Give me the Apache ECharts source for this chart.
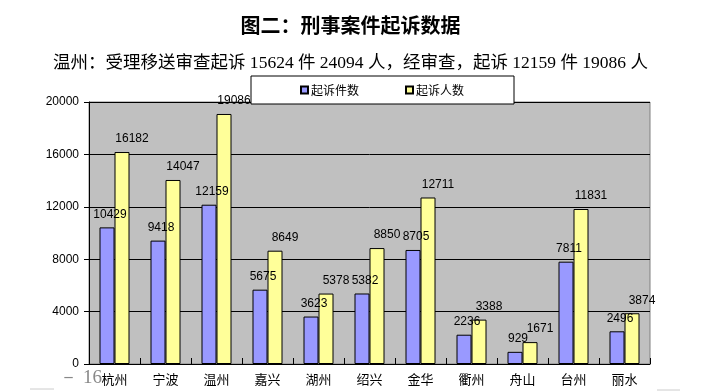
<!DOCTYPE html>
<html><head><meta charset="utf-8">
<script src="https://cdn.jsdelivr.net/npm/echarts@6/dist/echarts.min.js"></script>
<style>html,body{margin:0;padding:0;background:#fff}#c{width:701px;height:391px}</style>
</head><body><div id="c"></div>
<script>
var categories = ['杭州','宁波','温州','嘉兴','湖州','绍兴','金华','衢州','舟山','台州','丽水'];
var caseCounts = [10429, 9418, 12159, 5675, 3623, 5382, 8705, 2236, 929, 7811, 2496];
var personCounts = [16182, 14047, 19086, 8649, 5378, 8850, 12711, 3388, 1671, 11831, 3874];
var yTicks = [0, 4000, 8000, 12000, 16000, 20000];
var seriesNames = ['起诉件数', '起诉人数'];
var titleText = '图二：刑事案件起诉数据';
var subtitleText = '温州：受理移送审查起诉 15624 件 24094 人，经审查，起诉 12159 件 19086 人';
var pageMark = '－ 16';

var chart = echarts.init(document.getElementById('c'), null, {renderer: 'canvas'});
var numFont = 'Liberation Sans, Arial, sans-serif';
var cjkFont = 'Noto Sans CJK SC, sans-serif';
chart.setOption({
  animation: false,
  backgroundColor: '#fff',
  title: [
    {text: titleText, left: 'center', top: 10,
     textStyle: {fontSize: 20, fontWeight: 'bold', color: '#000', fontFamily: cjkFont}},
    {text: subtitleText, left: 'center', top: 50,
     textStyle: {fontSize: 17.5, fontWeight: 'normal', color: '#000', fontFamily: 'Liberation Serif, Noto Sans CJK SC, serif'}}
  ],
  legend: {
    data: seriesNames,
    left: 251, top: 76,
    padding: [8, 50, 8, 49],
    itemGap: 46,
    icon: 'rect',
    itemWidth: 7, itemHeight: 7,
    backgroundColor: '#fff',
    borderColor: '#000', borderWidth: 1,
    textStyle: {fontSize: 12, color: '#000', fontFamily: cjkFont, padding: [0, 0, 0, -2]}
  },
  grid: {left: 89, right: 51, top: 102, bottom: 27, show: true,
    backgroundColor: '#C0C0C0', borderColor: '#808080', borderWidth: 1},
  xAxis: {
    type: 'category', data: categories,
    axisLine: {lineStyle: {color: '#000', width: 1}},
    axisTick: {show: true, inside: true, length: 6, lineStyle: {color: '#000'}},
    axisLabel: {fontSize: 13, color: '#000', margin: 9, fontFamily: cjkFont}
  },
  yAxis: {
    type: 'value', min: yTicks[0], max: yTicks[yTicks.length - 1], interval: yTicks[1] - yTicks[0],
    axisLine: {show: true, lineStyle: {color: '#000', width: 1}},
    axisTick: {show: true, length: 5, lineStyle: {color: '#000'}},
    axisLabel: {fontSize: 12, color: '#000', margin: 10, fontFamily: numFont,
      formatter: function (v) { return String(v); }},
    splitLine: {lineStyle: {color: '#000', width: 1}}
  },
  series: [
    {name: seriesNames[0], type: 'bar', data: caseCounts, barWidth: 15, barGap: '0%',
     itemStyle: {color: '#9999FF', borderColor: '#000', borderWidth: 1},
     label: {show: true, position: 'top', distance: 7, offset: [3, 0], fontSize: 12, color: '#000', fontFamily: numFont}},
    {name: seriesNames[1], type: 'bar', data: personCounts, barWidth: 15, barGap: '0%',
     itemStyle: {color: '#FFFF99', borderColor: '#000', borderWidth: 1},
     label: {show: true, position: 'top', distance: 7, offset: [10, 0], fontSize: 12, color: '#000', fontFamily: numFont}}
  ],
  graphic: [
    {type: 'text', right: 701 - 102, top: 369,
     style: {text: pageMark, fontSize: 19, fill: '#888', fontFamily: 'Liberation Serif, serif'}},
    {type: 'line', shape: {x1: 30, y1: 389, x2: 54, y2: 389}, style: {stroke: '#ccc', lineWidth: 1}},
    {type: 'line', shape: {x1: 657, y1: 390, x2: 680, y2: 390}, style: {stroke: '#ccc', lineWidth: 1}}
  ]
});
</script></body></html>
